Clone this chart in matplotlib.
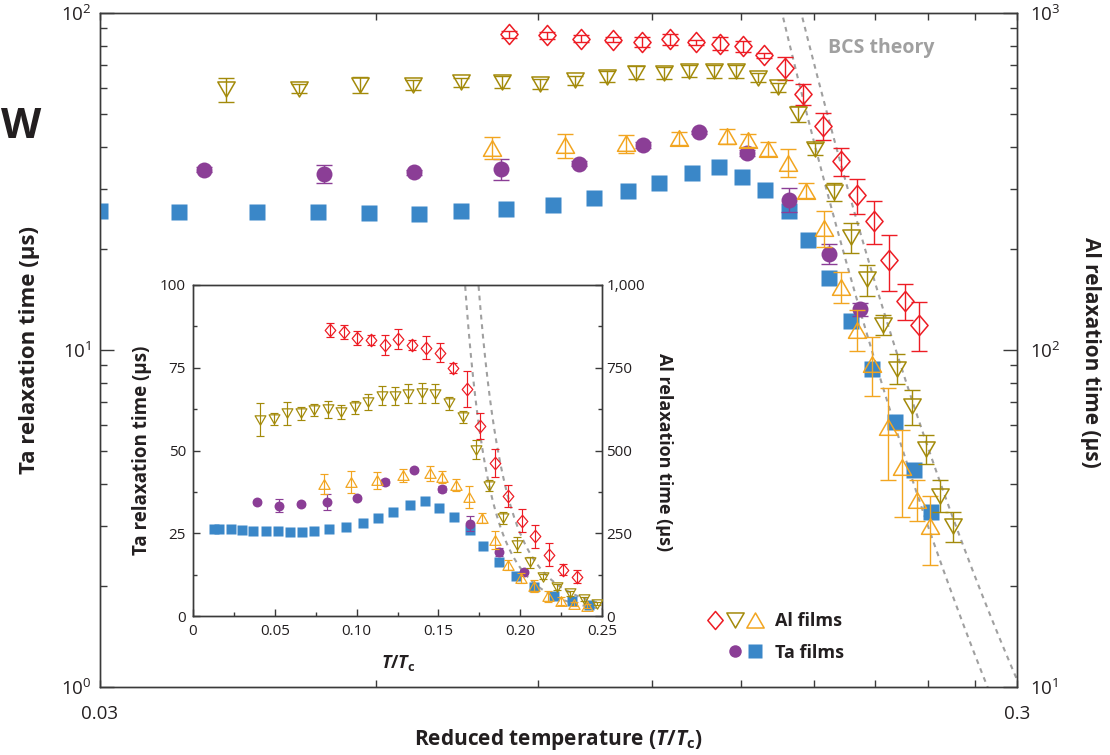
import numpy as np
import matplotlib
matplotlib.use('Agg')
import matplotlib.pyplot as plt
from matplotlib import font_manager
from matplotlib.path import Path
from matplotlib.lines import Line2D
from matplotlib.legend_handler import HandlerTuple
from matplotlib.ticker import FixedLocator, NullFormatter, FuncFormatter, LogLocator, MultipleLocator

# ---------------- data ----------------
# Ta film 1 (purple circles), Ta relaxation time in us
ta1_t = [0.0390, 0.0526, 0.0660, 0.0821, 0.1000, 0.1173, 0.1350, 0.1522, 0.1691, 0.1870, 0.2025]
ta1_tau = [34.3, 33.3, 33.7, 34.5, 35.7, 40.5, 44.2, 38.4, 27.9, 19.3, 13.2]
ta1_err = [0.6, 2.0, 0.6, 2.5, 0.6, 0.8, 0.6, 0.8, 2.3, 1.3, 0.6]

# Ta film 2 (blue squares)
ta2_t = [0.0129, 0.0157, 0.0235, 0.0300, 0.0366, 0.0445, 0.0518, 0.0590, 0.0668, 0.0742,
         0.0832, 0.0935, 0.1037, 0.1129, 0.1222, 0.1326, 0.1418, 0.1505, 0.1595, 0.1692,
         0.1775, 0.1869, 0.1977, 0.2085, 0.2206, 0.2316, 0.2420]
ta2_tau = [26.3, 26.4, 26.4, 25.9, 25.7, 25.6, 25.6, 25.5, 25.4, 25.8,
           26.2, 27.0, 28.2, 29.6, 31.3, 33.5, 34.8, 32.6, 29.8, 25.9,
           21.2, 16.4, 12.2, 8.8, 6.1, 4.4, 3.3]

# Al film 1 (red diamonds), Al relaxation time in us
al1_t = [0.0837, 0.0921, 0.1003, 0.1088, 0.1171, 0.1255, 0.1340, 0.1422, 0.1508, 0.1588,
         0.1675, 0.1755, 0.1843, 0.1926, 0.2009, 0.2093, 0.2178, 0.2264, 0.2346]
al1_tau = [864, 858, 840, 833, 820, 836, 819, 811, 796, 748,
           686, 574, 462, 363, 288, 241, 185, 140, 119]
al1_err = [20, 20, 20, 15, 30, 30, 15, 35, 30, 15,
           55, 40, 43, 34, 34, 35, 35, 17, 20]

# Al film 2 (olive down-triangles)
al2_t = [0.0412, 0.0494, 0.0577, 0.0658, 0.0742, 0.0823, 0.0905, 0.0990, 0.1071, 0.1153,
         0.1237, 0.1317, 0.1402, 0.1482, 0.1566, 0.1648, 0.1730, 0.1808, 0.1894, 0.1978,
         0.2058, 0.2142, 0.2222, 0.2304, 0.2388, 0.2471, 0.2554]
al2_tau = [593, 596, 612, 612, 622, 624, 617, 631, 647, 665,
           664, 672, 673, 672, 642, 602, 503, 394, 295, 216,
           162, 119, 88, 68, 51, 37, 30]
al2_err = [50, 18, 35, 20, 19, 27, 21, 20, 24, 29,
           27, 28, 30, 30, 20, 18, 28, 16, 18, 22,
           17, 8, 9, 8, 5, 4, 3]

# Al film 3 (orange up-triangles)
al3_t = [0.0803, 0.0965, 0.1125, 0.1285, 0.1448, 0.1525, 0.1607, 0.1688, 0.1768, 0.1846,
         0.1927, 0.2006, 0.2085, 0.2170, 0.2248, 0.2331, 0.2409]
al3_tau = [398, 405, 410, 425, 431, 419, 395, 360, 297, 230,
           154, 115, 91, 59, 45, 36, 30]
al3_err = [30, 33, 25, 20, 22, 18, 18, 34, 15, 28,
           16, 16, 18, 18, 13, 5, 7]

# BCS theory curves: temperature where curve reaches 100 us (Ta axis), gap (Delta/kTc)
bcs_t100 = [0.1663, 0.1745]
bcs_gap = 1.9

# tick labels
main_x_ticks = [0.03, 0.3]
main_x_minor = [0.06, 0.09, 0.12, 0.15, 0.18, 0.21, 0.24, 0.27]

# ---------------- style ----------------
def has_font(name):
    try:
        font_manager.findfont(font_manager.FontProperties(family=name), fallback_to_default=False)
        return True
    except Exception:
        return False

BASE = 'Open Sans' if has_font('Open Sans') else 'DejaVu Sans'
NARROW = 'Liberation Sans Narrow' if has_font('Liberation Sans Narrow') else BASE

TXT = '#231F20'
plt.rcParams.update({
    'font.family': [BASE, 'DejaVu Sans'],
    'mathtext.fontset': 'custom',
    'mathtext.rm': BASE,
    'mathtext.it': BASE + ':italic',
    'mathtext.bf': NARROW + ':bold',
    'mathtext.bfit': NARROW + ':italic:bold',
    'axes.linewidth': 1.0,
    'axes.edgecolor': '#3A3A3A',
    'text.color': TXT,
    'xtick.color': '#3A3A3A',
    'ytick.color': '#3A3A3A',
    'xtick.labelcolor': TXT,
    'ytick.labelcolor': TXT,
})

RED = '#ED1C24'
OLIVE = '#A38A0A'
ORANGE = '#F2A520'
PURPLE = '#8B3E96'
BLUE = '#3A87C8'
GRAY = '#A0A0A0'

def mk(verts):
    verts = list(verts) + [verts[0]]
    codes = [Path.MOVETO] + [Path.LINETO] * (len(verts) - 2) + [Path.CLOSEPOLY]
    return Path(verts, codes)

DIAMOND = mk([(0, 1), (0.85, 0), (0, -1), (-0.85, 0)])
TRI_DOWN = mk([(-0.5, 0.433), (0.5, 0.433), (0, -0.433)])
TRI_UP = mk([(-0.5, -0.433), (0.5, -0.433), (0, 0.433)])

W, H = 1110, 755
fig = plt.figure(figsize=(W / 100, H / 100), dpi=100)

# ---------------- main axes ----------------
L, R, T, B = 100, 1017, 13, 687
ax = fig.add_axes([L / W, 1 - B / H, (R - L) / W, (B - T) / H])
ax2 = ax.twinx()

def draw_series(a_ta, a_al, scale, lw, cap):
    s = scale
    a_ta.plot(ta2_t, ta2_tau, ls='none', marker='s', ms=11 * s, mfc=BLUE, mec='none', zorder=3)
    a_ta.errorbar(ta1_t, ta1_tau, yerr=ta1_err, fmt='none', ecolor=PURPLE, elinewidth=lw,
                  capsize=cap, capthick=lw, zorder=4)
    a_ta.plot(ta1_t, ta1_tau, ls='none', marker='o', ms=11.5 * s, mfc=PURPLE, mec='none', zorder=4)
    for tt, vv, ee, col, mrk, ms in [(al3_t, al3_tau, al3_err, ORANGE, TRI_UP, 13),
                                     (al2_t, al2_tau, al2_err, OLIVE, TRI_DOWN, 12.5),
                                     (al1_t, al1_tau, al1_err, RED, DIAMOND, 14.5)]:
        a_al.errorbar(tt, vv, yerr=ee, fmt='none', ecolor=col, elinewidth=lw,
                      capsize=cap, capthick=lw, zorder=3)
        a_al.plot(tt, vv, ls='none', marker=mrk, ms=ms * s, mfc='none', mec=col,
                  mew=1.1 * (0.8 if s < 1 else 1), zorder=4)

def bcs_curves(a, tmin, tmax):
    tgrid = np.linspace(tmin, tmax, 400)
    for t0 in bcs_t100:
        tau = 100 * np.exp(bcs_gap * (1 / tgrid - 1 / t0))
        a.plot(tgrid, tau, color=GRAY, lw=1.5, ls=(0, (2.3, 2.3)), zorder=2)

bcs_curves(ax, 0.15, 0.31)
draw_series(ax, ax2, 1.0, 1.0, 5.5)

ax.set_xscale('log')
ax.set_yscale('log')
ax2.set_yscale('log')
ax.set_xlim(0.03, 0.3)
ax.set_ylim(1, 100)
ax2.set_ylim(10, 1000)

ax.xaxis.set_major_locator(FixedLocator(main_x_ticks))
ax.xaxis.set_major_formatter(FuncFormatter(lambda v, p: f'{v:g}'))
ax.xaxis.set_minor_locator(FixedLocator(main_x_minor))
ax.xaxis.set_minor_formatter(NullFormatter())
ax.tick_params(axis='x', which='both', direction='in', top=True, bottom=True,
               length=5, width=1.0, labelsize=13.5, pad=13)

logfmt = FuncFormatter(lambda v, p: r'$10^{%d}$' % int(round(np.log10(v))))
for a in (ax, ax2):
    a.yaxis.set_major_locator(LogLocator(base=10, numticks=10))
    a.yaxis.set_major_formatter(logfmt)
    a.yaxis.set_minor_locator(LogLocator(base=10, subs=np.arange(2, 10), numticks=10))
    a.yaxis.set_minor_formatter(NullFormatter())
ax.tick_params(axis='y', which='major', direction='in', length=10, width=1.0, labelsize=13.5, pad=6)
ax.tick_params(axis='y', which='minor', direction='in', length=5, width=1.0)
ax2.tick_params(axis='y', which='major', direction='in', length=10, width=1.0, labelsize=13.5, pad=9)
ax2.tick_params(axis='y', which='minor', direction='in', length=5, width=1.0)

ax.text(0.794, 0.948, 'BCS theory', transform=ax.transAxes, color=GRAY, fontsize=14,
        fontweight='bold', ha='left', va='center')

# legend
lg_al = (Line2D([], [], ls='none', marker=DIAMOND, ms=13, mfc='none', mec=RED, mew=1.1),
         Line2D([], [], ls='none', marker=TRI_DOWN, ms=12.5, mfc='none', mec=OLIVE, mew=1.1),
         Line2D([], [], ls='none', marker=TRI_UP, ms=12.5, mfc='none', mec=ORANGE, mew=1.1))
lg_ta = (Line2D([], [], ls='none'),
         Line2D([], [], ls='none', marker='o', ms=9, mfc=PURPLE, mec='none'),
         Line2D([], [], ls='none', marker='s', ms=9.5, mfc=BLUE, mec='none'))
leg = ax2.legend([lg_al, lg_ta], ['Al films', 'Ta films'],
                 handler_map={tuple: HandlerTuple(ndivide=None, pad=0)},
                 loc='upper left', bbox_to_anchor=(705 / W, 1 - 612 / H),
                 bbox_transform=fig.transFigure, frameon=False, fontsize=13,
                 handlelength=3.3, handletextpad=0.6, labelspacing=0.75,
                 borderpad=0, borderaxespad=0)
for t in leg.get_texts():
    t.set_fontweight('bold')

# ---------------- inset ----------------
iL, iR, iT, iB = 193, 602, 285, 616
axi = fig.add_axes([iL / W, 1 - iB / H, (iR - iL) / W, (iB - iT) / H])
axi.set_facecolor('white')
axi2 = axi.twinx()
bcs_curves(axi, 0.15, 0.26)
draw_series(axi, axi2, 0.62, 0.85, 3.0)
axi.set_xlim(0, 0.25)
axi.set_ylim(0, 100)
axi2.set_ylim(0, 1000)
axi.xaxis.set_major_locator(MultipleLocator(0.05))
axi.xaxis.set_minor_locator(MultipleLocator(0.025))
axi.xaxis.set_major_formatter(FuncFormatter(lambda v, p: '0' if abs(v) < 1e-9 else f'{v:.2f}'))
axi.yaxis.set_major_locator(MultipleLocator(25))
axi.yaxis.set_minor_locator(MultipleLocator(12.5))
axi2.yaxis.set_major_locator(MultipleLocator(250))
axi2.yaxis.set_minor_locator(MultipleLocator(125))
axi2.yaxis.set_major_formatter(FuncFormatter(lambda v, p: f'{int(round(v)):,}'))
axi.tick_params(axis='both', which='major', direction='in', length=5, width=1.0, labelsize=11)
axi.tick_params(axis='both', which='minor', direction='in', length=2.8, width=1.0)
axi.tick_params(axis='x', pad=6)
axi.tick_params(axis='y', pad=5)
axi2.tick_params(axis='y', which='major', direction='in', length=5, width=1.0, labelsize=11, pad=3)
axi2.tick_params(axis='y', which='minor', direction='in', length=2.8, width=1.0)

# ---------------- labels ----------------
fig.text(30 / W, 1 - 350 / H, 'Ta relaxation time (µs)', rotation=90, ha='center', va='center',
         fontsize=16, fontweight='bold')
fig.text(1090 / W, 1 - 352 / H, 'Al relaxation time (µs)', rotation=-90, ha='center', va='center',
         fontsize=15, fontweight='bold', family=[NARROW, 'DejaVu Sans'])
fig.text(558 / W, 1 - 740 / H, r'Reduced temperature ($\mathbfit{T}$/$\mathbfit{T}_{\mathbf{c}}$)',
         ha='center', va='center', fontsize=15, fontweight='bold', family=[NARROW, 'DejaVu Sans'])
fig.text(142 / W, 1 - 450 / H, 'Ta relaxation time (µs)', rotation=90, ha='center', va='center',
         fontsize=13.5, fontweight='bold')
fig.text(664 / W, 1 - 452 / H, 'Al relaxation time (µs)', rotation=-90, ha='center', va='center',
         fontsize=13, fontweight='bold')
fig.text(398 / W, 1 - 663 / H, r'$\mathbfit{T}$/$\mathbfit{T}_{\mathbf{c}}$', ha='center', va='center',
         fontsize=13, fontweight='bold', family=[NARROW, 'DejaVu Sans'])
fig.text(1 / W, 1 - 127 / H, 'W', ha='left', va='center', fontsize=30, fontweight='bold')

fig.savefig('out.png', dpi=100)
